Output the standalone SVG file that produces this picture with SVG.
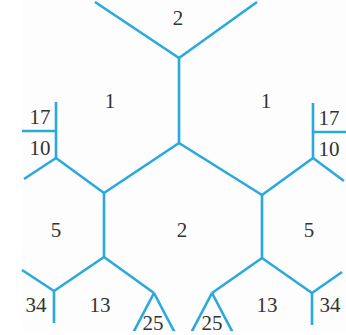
<svg xmlns="http://www.w3.org/2000/svg" width="346" height="335" viewBox="0 0 346 335">
<defs>
<style>
.c line{stroke:#2aa9dd;stroke-width:2.6;stroke-linecap:butt;fill:none}
.t{font-family:"Liberation Serif","DejaVu Serif",serif;font-size:21px;fill:#333;text-anchor:middle}
</style>
<clipPath id="clip"><rect x="0" y="0" width="346" height="331"/></clipPath>
</defs>
<rect x="0" y="0" width="346" height="335" fill="#fff"/>
<rect x="22" y="0" width="324" height="331" fill="#fdfdfd"/>
<g clip-path="url(#clip)">
<g id="connectors" class="c">
<line x1="95" y1="2" x2="179" y2="58"/>
<line x1="257" y1="2" x2="179" y2="58"/>
<line x1="179" y1="58" x2="179" y2="143"/>
<line x1="179" y1="143" x2="104" y2="193"/>
<line x1="179" y1="143" x2="262" y2="195"/>
<line x1="104" y1="193" x2="104" y2="257"/>
<line x1="262" y1="195" x2="262" y2="258"/>
<line x1="56" y1="158" x2="104" y2="193"/>
<line x1="56" y1="158" x2="24" y2="179"/>
<line x1="56" y1="102" x2="56" y2="158"/>
<line x1="22" y1="131" x2="56" y2="131"/>
<line x1="313" y1="158" x2="262" y2="195"/>
<line x1="313" y1="158" x2="344" y2="181"/>
<line x1="313" y1="103" x2="313" y2="158"/>
<line x1="313" y1="132" x2="346" y2="132"/>
<line x1="104" y1="257" x2="54" y2="291"/>
<line x1="54" y1="291" x2="22" y2="270"/>
<line x1="54" y1="291" x2="54" y2="323"/>
<line x1="104" y1="257" x2="154" y2="293"/>
<line x1="154" y1="293" x2="133" y2="333"/>
<line x1="154" y1="293" x2="175" y2="333"/>
<line x1="262" y1="258" x2="212" y2="293"/>
<line x1="212" y1="293" x2="191" y2="333"/>
<line x1="212" y1="293" x2="233" y2="333"/>
<line x1="262" y1="258" x2="312" y2="293"/>
<line x1="312" y1="293" x2="312" y2="325"/>
<line x1="312" y1="293" x2="342" y2="272"/>
</g>
</g>
<g id="region-top"><text class="t" x="178" y="25">2</text></g>
<g id="region-left-1"><text class="t" x="110" y="108">1</text></g>
<g id="region-right-1"><text class="t" x="266" y="108">1</text></g>
<g id="region-left-17"><text class="t" x="40" y="124">17</text></g>
<g id="region-left-10"><text class="t" x="40" y="155">10</text></g>
<g id="region-right-17"><text class="t" x="329" y="125">17</text></g>
<g id="region-right-10"><text class="t" x="329" y="156">10</text></g>
<g id="region-left-5"><text class="t" x="56" y="237">5</text></g>
<g id="region-center-2"><text class="t" x="182" y="237">2</text></g>
<g id="region-right-5"><text class="t" x="309" y="237">5</text></g>
<g id="region-left-34"><text class="t" x="36" y="312">34</text></g>
<g id="region-left-13"><text class="t" x="100" y="312">13</text></g>
<g id="region-left-25"><text class="t" x="153" y="330">25</text></g>
<g id="region-right-25"><text class="t" x="212" y="330">25</text></g>
<g id="region-right-13"><text class="t" x="267" y="312">13</text></g>
<g id="region-right-34"><text class="t" x="330" y="312">34</text></g>
</svg>
